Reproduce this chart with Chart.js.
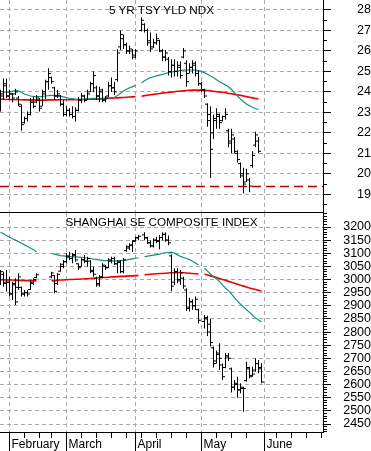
<!DOCTYPE html>
<html>
<head>
<meta charset="utf-8">
<script src="https://cdn.jsdelivr.net/npm/chart.js@4.4.0/dist/chart.umd.min.js"></script>
<style>
  body { margin: 0; background: #fff; }
  #wrap { position: relative; width: 371px; height: 451px; overflow: hidden; }
  canvas { position: absolute; left: 0; }
  .title { position: absolute; left: 0; width: 323px; text-align: center; color: #000;
           font: 11.7px "Liberation Sans", Arial, sans-serif; line-height: 11.7px; pointer-events: none; }
</style>
</head>
<body>
<div id="wrap">
  <canvas id="yld" width="371" height="213" style="top:0"></canvas>
  <canvas id="sh" width="371" height="238" style="top:213px"></canvas>
  <div class="title" style="top:4px">5 YR TSY YLD NDX</div>
  <div class="title" style="top:216px">SHANGHAI SE COMPOSITE INDEX</div>
</div>
<script>
// trading days on the shared calendar (2010)
const dates = [
  '01-27','01-28','01-29',
  '02-01','02-02','02-03','02-04','02-05',
  '02-08','02-09','02-10','02-11','02-12',
  '02-16','02-17','02-18','02-19',
  '02-22','02-23','02-24','02-25','02-26',
  '03-01','03-02','03-03','03-04','03-05',
  '03-08','03-09','03-10','03-11','03-12',
  '03-15','03-16','03-17','03-18','03-19',
  '03-22','03-23','03-24','03-25','03-26',
  '03-29','03-30','03-31',
  '04-01','04-02',
  '04-05','04-06','04-07','04-08','04-09',
  '04-12','04-13','04-14','04-15','04-16',
  '04-19','04-20','04-21','04-22','04-23',
  '04-26','04-27','04-28','04-29','04-30',
  '05-03','05-04','05-05','05-06','05-07',
  '05-10','05-11','05-12','05-13','05-14',
  '05-17','05-18','05-19','05-20','05-21',
  '05-24','05-25','05-26','05-27','05-28',
  '05-31'
];

// month / week marks on the calendar (index in dates, June runs past the data)
const monthTicks = [3, 22, 45, 67, 88];
const monthNames = ['February', 'March', 'April', 'May', 'June'];
const weekTicks = [8, 13, 17, 27, 32, 37, 42, 47, 52, 57, 62, 72, 77, 82, 92, 97, 102, 107];

// 5 YR TSY YLD NDX
const yldOpen = [
  23.3, 23.8, 24.3,
  23.8, 23.9, 23.9, 23.7, 23.3,
  22.5, 22.7, 22.9, 23.5, 23.5,
  23.6, 23.3, 23.9, 24.5,
  24.7, 24.2, 23.8, 23.8, 23.4,
  22.9, 23.1, 22.9, 22.8, 23.1,
  23.6, 23.8, 23.6, 24.0, 24.4,
  24.2, 23.8, 24.0, 23.6, 23.8,
  24.3, 24.2, 24.6, 26.2, 26.6,
  26.3, 26.0, 26.0,
  25.8, null,
  27.0, 27.3, 27.0, 26.5, 26.2,
  26.4, 26.5, 26.0, 25.7, 25.6,
  25.0, 25.3, 25.0, 25.2, 25.7,
  25.4, 24.9, 25.2, 25.3, 24.9,
  24.4, 24.1, 23.4, 22.9, 22.0,
  22.6, 22.8, 22.6, 22.8, 22.1,
  21.6, 21.7, 21.0, 20.5, 20.0,
  19.6, 19.7, 20.4, 21.4, 21.6,
  null
];
const yldHigh = [
  24.1, 24.65, 24.65,
  24.1, 23.95, 24.15, 23.8, 23.4,
  22.8, 23.05, 23.7, 23.76, 23.85,
  23.7, 24.1, 24.6, 25.15,
  24.75, 24.25, 24.1, 23.85, 23.6,
  23.3, 23.2, 23.3, 23.25, 23.75,
  23.95, 23.85, 24.1, 24.5, 25.0,
  24.3, 24.25, 24.15, 23.8, 24.5,
  24.7, 24.5, 26.1, 27.0, 26.8,
  26.4, 26.25, 26.1,
  26.1, null,
  27.65, 27.35, 27.1, 26.9, 26.6,
  26.85, 26.55, 26.1, 26.05, 25.7,
  25.6, 25.6, 25.5, 25.5, 26.15,
  25.55, 25.4, 25.55, 25.5, 25.05,
  24.5, 24.15, 23.45, 23.3, 22.9,
  23.2, 22.95, 22.85, 23.2, 22.2,
  22.2, 21.8, 21.15, 20.55, 20.3,
  20.25, 19.8, 21.1, 22.05, 21.8,
  null
];
const yldLow = [
  23.05, 23.6, 23.7,
  23.6, 23.5, 23.85, 23.3, 22.1,
  22.45, 22.55, 22.85, 23.2, 23.45,
  23.05, 23.3, 23.65, 24.1,
  24.4, 23.6, 23.7, 23.3, 22.8,
  22.8, 22.8, 22.7, 22.55, 23.05,
  23.45, 23.5, 23.6, 24.0, 24.0,
  23.6, 23.5, 23.5, 23.5, 23.75,
  24.0, 23.85, 24.5, 26.05, 26.1,
  25.85, 25.85, 25.6,
  25.65, null,
  26.95, 26.9, 26.25, 25.95, 26.15,
  26.3, 25.95, 25.5, 25.5, 24.8,
  24.7, 24.75, 24.75, 24.65, 25.65,
  24.25, 24.9, 24.9, 24.75, 24.3,
  24.0, 23.7, 22.3, 19.8, 21.7,
  22.2, 22.2, 22.55, 22.65, 21.3,
  21.0, 21.0, 20.55, 19.8, 19.05,
  19.6, 19.1, 20.3, 21.3, 21.0,
  null
];
const yldClose = [
  23.9, 24.4, 23.8,
  23.9, 23.7, 24.0, 23.4, 22.4,
  22.7, 22.9, 23.5, 23.3, 23.7,
  23.2, 24.0, 24.5, 24.9,
  24.5, 23.8, 23.9, 23.4, 22.9,
  23.1, 22.9, 22.8, 23.1, 23.6,
  23.8, 23.6, 23.9, 24.4, 24.8,
  23.8, 24.1, 23.6, 23.7, 24.3,
  24.2, 24.0, 25.9, 26.8, 26.3,
  26.0, 26.1, 25.7,
  26.0, null,
  27.5, 27.0, 26.4, 26.1, 26.4,
  26.6, 26.0, 25.7, 25.9, 25.0,
  25.3, 25.0, 25.3, 24.8, 26.0,
  24.5, 25.2, 25.4, 24.9, 24.4,
  24.1, 23.8, 22.6, 21.2, 22.7,
  22.9, 22.5, 22.8, 22.9, 21.5,
  21.9, 21.1, 20.7, 19.9, 19.5,
  20.0, 19.4, 20.9, 21.9, 21.1,
  null
];
const yldAvgFast = [
  24.02, 24.0, 23.98,
  23.99, 24.03, 24.07, 24.05, 23.97,
  23.9, 23.85, 23.8, 23.78, 23.77,
  23.77, 23.78, 23.8, 23.82,
  23.83, 23.83, 23.82, 23.8, 23.76,
  23.72, 23.69, 23.67, 23.65, 23.64,
  23.64, 23.65, 23.66, 23.67, 23.68,
  23.68, 23.68, 23.69, 23.7, 23.71,
  23.72, 23.74, 23.82, 23.93, 24.04,
  24.13, 24.2, 24.26,
  24.32, null,
  24.45, 24.55, 24.63, 24.7, 24.74,
  24.78, 24.82, 24.86, 24.9, 24.94,
  24.97, 25.0, 25.02, 25.04, 25.06,
  25.07, 25.07, 25.07, 25.06, 25.04,
  25.0, 24.93, 24.86, 24.78, 24.7,
  24.6, 24.5, 24.42, 24.34, 24.25,
  24.12, 23.95, 23.8, 23.65, 23.52,
  23.41, 23.32, 23.25, 23.19, 23.14,
  null
];
const yldAvgSlow = [
  23.64, 23.64, 23.63,
  23.63, 23.63, 23.62, 23.62, 23.62,
  23.61, 23.61, 23.61, 23.6, 23.6,
  23.6, 23.6, 23.6, 23.61,
  23.61, 23.61, 23.61, 23.62, 23.62,
  23.62, 23.62, 23.62, 23.62, 23.62,
  23.62, 23.63, 23.63, 23.64, 23.64,
  23.65, 23.65, 23.66, 23.67, 23.68,
  23.69, 23.7, 23.71, 23.72, 23.73,
  23.74, 23.75, 23.76,
  23.77, null,
  23.79, 23.82, 23.84, 23.86, 23.88,
  23.9, 23.92, 23.94, 23.96, 23.98,
  23.99, 24.01, 24.03, 24.04, 24.06,
  24.07, 24.08, 24.09, 24.09, 24.09,
  24.09, 24.08, 24.07, 24.05, 24.03,
  24.01, 24.0, 23.98, 23.96, 23.93,
  23.91, 23.88, 23.86, 23.83, 23.8,
  23.77, 23.74, 23.71, 23.68, 23.65,
  null
];
const yldSupport = 19.38;
const yldLabels = [19, 20, 21, 22, 23, 24, 25, 26, 27, 28];

// SHANGHAI SE COMPOSITE INDEX
const shOpen = [
  2985, 3020, 2990,
  2990, 2945, 2980, 2970, 2970,
  2945, 2950, 2962, 2985, 3008,
  null, null, null, null,
  3010, 3015, 2985, 3032, 3050,
  3068, 3085, 3080, 3092, 3060,
  3050, 3075, 3070, 3070, 3035,
  3005, 2980, 3010, 3050, 3045,
  3070, 3080, 3060, 3065, 3030,
  3110, 3120, 3130,
  3148, 3158,
  null, 3170, 3158, 3140, 3128,
  3150, 3148, 3160, 3172, 3150,
  3090, 2990, 3030, 2995, 3005,
  2960, 2895, 2915, 2900, 2885,
  null, 2840, 2850, 2830, 2740,
  2690, 2720, 2675, 2665, 2705,
  2660, 2590, 2605, 2580, 2585,
  2615, 2660, 2635, 2655, 2680,
  2660
];
const shHigh = [
  3036, 3030, 3036,
  3011, 2992, 3005, 3024, 2973,
  2960, 2960, 2998, 3005, 3024,
  null, null, null, null,
  3030, 3017, 3024, 3062, 3074,
  3100, 3106, 3100, 3112, 3062,
  3081, 3093, 3087, 3074, 3049,
  3011, 3017, 3062, 3055, 3081,
  3087, 3087, 3074, 3074, 3081,
  3131, 3138, 3150,
  3163, 3170,
  null, 3180, 3163, 3150, 3157,
  3163, 3170, 3180, 3180, 3168,
  3095, 3043, 3043, 3036, 3011,
  2967, 2930, 2925, 2935, 2890,
  null, 2865, 2862, 2850, 2745,
  2730, 2757, 2680, 2720, 2720,
  2665, 2618, 2630, 2605, 2592,
  2687, 2668, 2668, 2700, 2694,
  2681
];
const shLow = [
  2979, 2973, 2954,
  2935, 2922, 2903, 2960, 2935,
  2935, 2935, 2960, 2979, 3005,
  null, null, null, null,
  3005, 2948, 2979, 3030, 3043,
  3062, 3074, 3062, 3068, 3036,
  3049, 3062, 3049, 3024, 3011,
  2973, 2973, 3005, 3036, 3043,
  3062, 3055, 3024, 3024, 3024,
  3106, 3112, 3106,
  3144, 3150,
  null, 3150, 3135, 3122, 3122,
  3138, 3115, 3150, 3144, 3131,
  2955, 2979, 2986, 2979, 2965,
  2880, 2878, 2885, 2884, 2833,
  null, 2814, 2785, 2745, 2665,
  2680, 2656, 2618, 2662, 2690,
  2570, 2579, 2550, 2567, 2497,
  2611, 2624, 2630, 2649, 2643,
  2605
];
const shClose = [
  3030, 2985, 2990,
  2945, 2985, 2915, 3010, 2945,
  2950, 2945, 2990, 3000, 3018,
  null, null, null, null,
  3025, 2955, 3020, 3058, 3068,
  3090, 3080, 3095, 3075, 3045,
  3075, 3070, 3080, 3030, 3020,
  2985, 3010, 3055, 3045, 3075,
  3080, 3060, 3070, 3030, 3075,
  3125, 3132, 3145,
  3160, 3165,
  null, 3160, 3140, 3128, 3150,
  3145, 3160, 3172, 3150, 3140,
  2975, 3030, 3000, 3025, 2975,
  2890, 2915, 2900, 2925, 2845,
  null, 2855, 2800, 2760, 2680,
  2715, 2700, 2630, 2710, 2700,
  2590, 2600, 2580, 2590, 2585,
  2665, 2630, 2640, 2680, 2665,
  2610
];
const shAvgFast = [
  3180, 3174, 3168,
  3161, 3155, 3150, 3144, 3138,
  3132, 3126, 3120, 3113, 3106,
  null, null, null, null,
  3100, 3097, 3094, 3091, 3090,
  3088, 3087, 3086, 3086, 3085,
  3084, 3083, 3082, 3080, 3078,
  3077, 3075, 3073, 3072, 3071,
  3071, 3071, 3071, 3072, 3073,
  3074, 3077, 3079,
  3081, 3083,
  null, 3087, 3089, 3091, 3093,
  3095, 3097, 3100, 3102, 3103,
  3104, 3100, 3094, 3088, 3084,
  3080, 3076, 3070, 3063, 3055,
  null, 3043, 3032, 3021, 3010,
  3003, 2992, 2980, 2967, 2958,
  2945, 2930, 2918, 2906, 2895,
  2885, 2875, 2864, 2854, 2846,
  2838
];
const shAvgSlow = [
  2999, 2999, 2998,
  2998, 2998, 2997, 2997, 2997,
  2996, 2996, 2996, 2996, 2995,
  null, null, null, null,
  2995, 2996, 2997, 2998, 2998,
  2999, 3000, 3000, 3001, 3001,
  3002, 3003, 3003, 3004, 3005,
  3006, 3007, 3008, 3008, 3009,
  3010, 3010, 3011, 3012, 3012,
  3013, 3014, 3014,
  3015, 3016,
  null, 3018, 3019, 3020, 3021,
  3022, 3023, 3023, 3024, 3025,
  3026, 3026, 3027, 3027, 3026,
  3025, 3024, 3023, 3022, 3021,
  null, 3020, 3017, 3014, 3011,
  3008, 3004, 3000, 2997, 2993,
  2990, 2986, 2982, 2978, 2975,
  2972, 2968, 2965, 2962, 2959,
  2956
];
const shLabels = [2450, 2500, 2550, 2600, 2650, 2700, 2750, 2800, 2850, 2900, 2950, 3000, 3050, 3100, 3150, 3200];

Chart.defaults.font.family = '"Liberation Sans", Arial, sans-serif';
Chart.defaults.color = '#000';

const gridColor = '#a8a8a8';
const clear = 'rgba(0,0,0,0)';
const xMin = -1 / 6;
const xMax = 107.5;

// minor ticks for the right axes
const yldTicks = [];
for (let v = 18.5; v <= 28; v += 0.5) yldTicks.push(v);
const shTicks = [];
for (let v = 2420; v <= 3250; v += 10) shTicks.push(v);

// high-low as floating bars
function barData(high, low) {
  const out = [];
  for (let i = 0; i < dates.length; i++) {
    if (high[i] != null) out.push({ x: i, y: [low[i], high[i]] });
  }
  return out;
}

// open (left) and close (right) little ticks
function tickData(values, shift) {
  const out = [];
  for (let i = 0; i < dates.length; i++) {
    if (values[i] != null) out.push({ x: i + shift, y: values[i] });
  }
  return out;
}

function lineData(values) {
  return dates.map((d, i) => ({ x: i, y: values[i] }));
}

function priceSets(open, high, low, close, fast, slow) {
  const tick = { type: 'line', showLine: false, pointStyle: 'line', pointRadius: 1, pointHoverRadius: 1,
                 pointBorderWidth: 1, pointBorderColor: '#000', order: 0 };
  return [
    { type: 'bar', data: barData(high, low), backgroundColor: '#000', borderWidth: 0, barThickness: 1,
      inflateAmount: 0, order: 1 },
    Object.assign({ data: tickData(open, -0.5) }, tick),
    Object.assign({ data: tickData(close, 0.5) }, tick),
    { type: 'line', data: lineData(fast), borderColor: '#12907e', borderWidth: 1.2, pointRadius: 0, order: 2 },
    { type: 'line', data: lineData(slow), borderColor: '#f00000', borderWidth: 1.6, pointRadius: 0, order: 2 }
  ];
}

function xScale(withLabels) {
  return {
    type: 'linear', min: xMin, max: xMax, offset: false,
    afterBuildTicks: s => { s.ticks = monthTicks.concat(withLabels ? weekTicks : []).map(v => ({ value: v })); },
    afterFit: s => { s.height = withLabels ? 19 : 1; s.paddingLeft = 0; s.paddingRight = 0; },
    grid: {
      offset: false,
      color: c => (c.tick && monthTicks.includes(c.tick.value)) ? gridColor : clear,
      drawTicks: withLabels, tickLength: 19, tickColor: '#000', tickWidth: 1,
      tickBorderDash: c => (c.tick && monthTicks.includes(c.tick.value)) ? [] : [5, 40]
    },
    border: { color: '#000', width: 1, dash: [4, 3] },
    ticks: {
      display: withLabels, autoSkip: false, maxRotation: 0, align: 'start', labelOffset: 2, padding: -13.5,
      font: { size: 12 },
      callback: v => { const k = monthTicks.indexOf(v); return k < 0 ? '' : monthNames[k]; }
    }
  };
}

function yScale(min, max, tickValues, labels, pad) {
  const major = v => labels.includes(v);
  return {
    type: 'linear', position: 'right', min: min, max: max,
    afterBuildTicks: s => { s.ticks = tickValues.map(v => ({ value: v })); },
    afterFit: s => { s.width = 48; s.paddingTop = 0; s.paddingBottom = 0; },
    grid: {
      color: c => (c.tick && major(c.tick.value)) ? gridColor : clear,
      tickLength: 8, tickColor: '#000', tickWidth: 1,
      tickBorderDash: c => (c.tick && major(c.tick.value)) ? [] : [3, 20]
    },
    border: { color: '#000', width: 1, dash: [4, 3] },
    ticks: {
      autoSkip: false, crossAlign: 'far', padding: pad, font: { size: 12.5 },
      callback: v => major(v) ? String(v) : ''
    }
  };
}

function makeChart(id, datasets, y, withLabels) {
  return new Chart(document.getElementById(id), {
    type: 'bar',
    data: { datasets: datasets },
    options: {
      responsive: false,
      animation: false,
      events: [],
      layout: { padding: 0, autoPadding: false },
      plugins: { legend: { display: false }, tooltip: { enabled: false } },
      scales: { x: xScale(withLabels), y: y }
    }
  });
}

// top panel: yield with the dashed support level
const yldSets = priceSets(yldOpen, yldHigh, yldLow, yldClose, yldAvgFast, yldAvgSlow);
yldSets.push({
  type: 'line', data: [{ x: xMin, y: yldSupport }, { x: xMax, y: yldSupport }],
  borderColor: '#b80000', borderWidth: 1.6, borderDash: [9, 5], pointRadius: 0, order: 3
});
makeChart('yld', yldSets, yScale(18.137, 28.488, yldTicks, yldLabels, 21.8), false);

// bottom panel: Shanghai composite
const shSets = priceSets(shOpen, shHigh, shLow, shClose, shAvgFast, shAvgSlow);
makeChart('sh', shSets, yScale(2419.6, 3253.3, shTicks, shLabels, 7.9), true);
</script>
</body>
</html>
